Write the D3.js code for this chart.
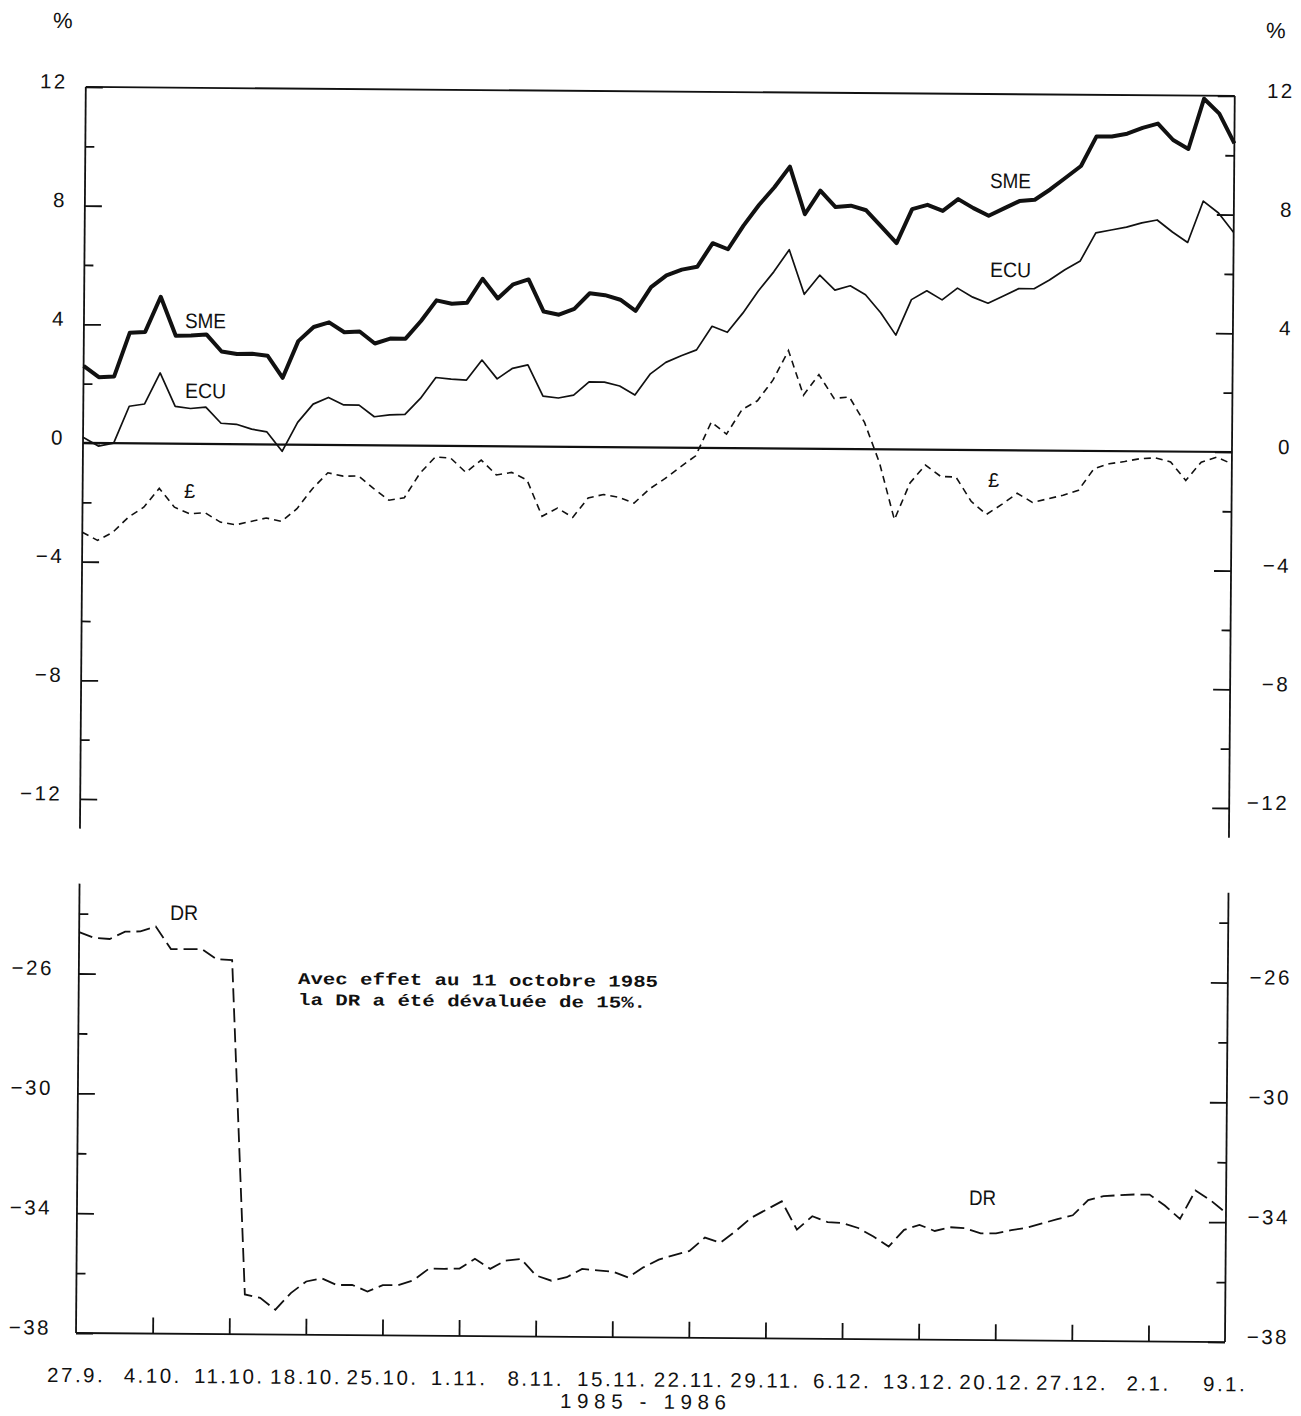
<!DOCTYPE html>
<html><head><meta charset="utf-8">
<script src="https://cdn.jsdelivr.net/npm/d3@7"></script>
<style>body{margin:0;background:#fff}svg{display:block}</style>
</head><body>
<svg id="c" width="1301" height="1416"></svg>
<script>
// ---- data (one value per business day, 27.9.1985 .. 9.1.1986) ----
const tickLabels = ["27.9.","4.10.","11.10.","18.10.","25.10.","1.11.","8.11.","15.11.","22.11.","29.11.","6.12.","13.12.","20.12.","27.12.","2.1.","9.1."];
const yearLabel = "1985 - 1986";
const sme = [2.6,2.22,2.25,3.73,3.76,4.95,3.64,3.65,3.69,3.12,3.04,3.05,2.99,2.25,3.49,3.97,4.13,3.8,3.83,3.43,3.6,3.6,4.2,4.9,4.79,4.83,5.64,4.98,5.46,5.63,4.55,4.45,4.65,5.18,5.12,4.97,4.6,5.4,5.8,6.0,6.1,6.9,6.7,7.5,8.2,8.8,9.5,7.9,8.7,8.15,8.2,8.05,7.5,6.95,8.1,8.25,8.05,8.45,8.15,7.9,8.15,8.4,8.45,8.8,9.2,9.6,10.6,10.6,10.7,10.9,11.05,10.5,10.2,11.9,11.4,10.4];
const ecu = [0.19,-0.1,0.0,1.25,1.33,2.38,1.26,1.19,1.24,0.7,0.67,0.51,0.42,-0.23,0.75,1.37,1.6,1.35,1.35,0.96,1.03,1.05,1.59,2.3,2.25,2.22,2.9,2.27,2.63,2.75,1.7,1.64,1.74,2.19,2.19,2.06,1.76,2.48,2.87,3.1,3.3,4.1,3.9,4.55,5.3,5.95,6.7,5.2,5.85,5.35,5.5,5.2,4.6,3.85,5.05,5.35,5.05,5.45,5.15,4.95,5.2,5.45,5.45,5.75,6.1,6.4,7.35,7.45,7.55,7.7,7.8,7.4,7.05,8.45,8.05,7.4];
const gbp = [-3.01,-3.28,-3.0,-2.49,-2.15,-1.51,-2.14,-2.36,-2.32,-2.63,-2.72,-2.6,-2.48,-2.59,-2.16,-1.48,-0.94,-1.05,-1.04,-1.46,-1.85,-1.76,-0.94,-0.38,-0.41,-0.89,-0.47,-0.97,-0.88,-1.13,-2.35,-2.07,-2.38,-1.72,-1.6,-1.69,-1.88,-1.4,-1.05,-0.65,-0.27,0.87,0.47,1.3,1.6,2.3,3.3,1.8,2.5,1.7,1.75,0.9,-0.46,-2.37,-1.13,-0.52,-0.9,-0.92,-1.73,-2.17,-1.83,-1.45,-1.75,-1.63,-1.5,-1.33,-0.6,-0.43,-0.35,-0.25,-0.22,-0.35,-0.97,-0.35,-0.18,-0.4];
const dr = [-24.62,-24.81,-24.84,-24.59,-24.58,-24.41,-25.16,-25.16,-25.15,-25.49,-25.51,-36.67,-36.78,-37.17,-36.61,-36.22,-36.11,-36.33,-36.32,-36.54,-36.32,-36.32,-36.15,-35.76,-35.76,-35.75,-35.42,-35.75,-35.47,-35.41,-35.96,-36.13,-36.01,-35.73,-35.77,-35.81,-36.0,-35.66,-35.4,-35.24,-35.1,-34.65,-34.82,-34.43,-33.98,-33.7,-33.42,-34.36,-33.91,-34.1,-34.13,-34.29,-34.57,-34.9,-34.34,-34.17,-34.37,-34.24,-34.27,-34.44,-34.43,-34.32,-34.24,-34.09,-33.94,-33.81,-33.3,-33.16,-33.13,-33.1,-33.1,-33.46,-33.9,-32.95,-33.28,-33.69];
const topMajor = [12,8,4,0,-4,-8,-12];
const topMinor = [10,6,2,-2,-6,-10];
const botMajor = [-26,-30,-34];
const botMinor = [-24,-28,-32,-36];
const noteLines = ["Avec effet au 11 octobre 1985","la DR a été dévaluée de 15%."];

// ---- layout ----
const W = 1301, H = 1416;
const L = 81, R = 1230;
const nDays = sme.length - 1;
const x = d3.scaleLinear().domain([0, nDays]).range([L, R]);
const yTop = d3.scaleLinear().domain([-13, 12]).range([833.1, 91.4]);
const yBot = d3.scaleLinear().domain([-38, -23]).range([1337.5, 888.1]);

const ROT = 0.45, CX = 650, CY = 700;
function U(px, py) { // page coords -> unrotated frame
  const t = ROT * Math.PI / 180, dx = px - CX, dy = py - CY;
  return [CX + dx * Math.cos(t) + dy * Math.sin(t), CY - dx * Math.sin(t) + dy * Math.cos(t)];
}

const svg = d3.select("#c");
svg.append("rect").attr("width", W).attr("height", H).attr("fill", "#fff");
const g = svg.append("g").attr("transform", `rotate(${ROT} ${CX} ${CY})`);
const ink = "#111";
const numFont = "'Liberation Sans', Arial, sans-serif";
const monoFont = "'Liberation Mono', 'Courier New', monospace";

function vline(xp, y1, y2, w) { g.append("line").attr("x1", xp).attr("x2", xp).attr("y1", y1).attr("y2", y2).attr("stroke", ink).attr("stroke-width", w || 1.8); }
function hline(yp, x1, x2, w) { g.append("line").attr("x1", x1).attr("x2", x2).attr("y1", yp).attr("y2", yp).attr("stroke", ink).attr("stroke-width", w || 1.8); }

// ---- frames ----
vline(L, yTop(12), yTop(-13));
vline(R, yTop(12), yTop(-13));
hline(yTop(12), L, R);
hline(yTop(0), L, R, 2.2);
vline(L, yBot(-23), yBot(-38));
vline(R, yBot(-23), yBot(-38));
hline(yBot(-38), L, R);

// ---- axes ----
function styleAxis(sel) {
  sel.select(".domain").remove();
  sel.selectAll(".tick line").attr("stroke", ink).attr("stroke-width", 1.8);
  sel.selectAll("text").attr("fill", ink).attr("font-family", numFont).attr("font-size", 20.5).attr("letter-spacing", 2.5);
}
function yAxes(scale, major, minor, padL, padR) {
  const a = g.append("g").attr("transform", `translate(${L},0)`)
    .call(d3.axisLeft(scale).tickValues(major).tickSize(-17).tickPadding(padL).tickFormat(d3.format("d")));
  styleAxis(a); a.selectAll("text").attr("y", -6).attr("dy", "0.35em");
  const b = g.append("g").attr("transform", `translate(${L},0)`)
    .call(d3.axisLeft(scale).tickValues(minor).tickSize(-9).tickFormat(""));
  styleAxis(b);
  const c = g.append("g").attr("transform", `translate(${R},0)`)
    .call(d3.axisRight(scale).tickValues(major).tickSize(-17).tickPadding(padR).tickFormat(d3.format("d")));
  styleAxis(c); c.selectAll("text").attr("text-anchor", "end").attr("y", -6).attr("dy", "0.35em");
  const e = g.append("g").attr("transform", `translate(${R},0)`)
    .call(d3.axisRight(scale).tickValues(minor).tickSize(-9).tickFormat(""));
  styleAxis(e);
}
yAxes(yTop, topMajor, topMinor, 18, 60);
yAxes(yBot, botMajor.concat([-38]), botMinor, 25, 64);

// x axis ticks (weekly) and labels
const weekIdx = d3.range(0, nDays + 1, 5);
const xt = g.append("g").attr("transform", `translate(0,${yBot(-38)})`)
  .call(d3.axisBottom(x).tickValues(weekIdx.slice(1, -1)).tickSize(-16).tickFormat(""));
styleAxis(xt);
const xl = g.append("g").attr("transform", `translate(0,${yBot(-38)})`)
  .call(d3.axisBottom(x).tickValues(weekIdx).tickSize(0).tickPadding(34).tickFormat((d, i) => tickLabels[i]));
styleAxis(xl);
xl.selectAll("text").attr("dy", "0.35em").attr("y", 42);

// ---- series ----
const lineTop = d3.line().x((d, i) => x(i)).y(d => yTop(d));
const lineBot = d3.line().x((d, i) => x(i)).y(d => yBot(d));
g.append("path").datum(gbp).attr("d", lineTop).attr("fill", "none").attr("stroke", ink).attr("stroke-width", 1.6).attr("stroke-dasharray", "7,5");
g.append("path").datum(ecu).attr("d", lineTop).attr("fill", "none").attr("stroke", ink).attr("stroke-width", 1.7).attr("stroke-linejoin", "round");
g.append("path").datum(sme).attr("d", lineTop).attr("fill", "none").attr("stroke", ink).attr("stroke-width", 4).attr("stroke-linejoin", "round");
g.append("path").datum(dr).attr("d", lineBot).attr("fill", "none").attr("stroke", ink).attr("stroke-width", 1.8).attr("stroke-dasharray", "14,6");

// ---- texts ----
function label(txt, px, py, opts) {
  opts = opts || {};
  const p = U(px, py);
  const t = g.append("text").attr("x", p[0]).attr("y", p[1]).text(txt)
    .attr("fill", ink).attr("font-family", opts.font || numFont)
    .attr("font-size", opts.size || 21);
  if (opts.len) t.attr("textLength", opts.len).attr("lengthAdjust", opts.adjust || "spacingAndGlyphs");
  if (opts.anchor) t.attr("text-anchor", opts.anchor);
  if (opts.weight) t.attr("font-weight", opts.weight);
  if (opts.ls) t.attr("letter-spacing", opts.ls);
  return t;
}
label("SME", 185, 328, {len: 41});
label("ECU", 185, 398, {len: 41});
label("£", 184, 498, {size: 20});
label("SME", 990, 188, {len: 41});
label("ECU", 990, 277, {len: 41});
label("£", 988, 487, {size: 20});
label("DR", 170, 920, {len: 28});
label("DR", 969, 1205, {len: 27});
label("%", 53, 28, {size: 22});
label("%", 1266, 38, {size: 22});
label(noteLines[0], 298, 984, {font: monoFont, size: 16.5, weight: "bold", len: 360, adjust: "spacingAndGlyphs"});
label(noteLines[1], 298, 1005, {font: monoFont, size: 16.5, weight: "bold", len: 348, adjust: "spacingAndGlyphs"});
label(yearLabel, 560, 1408, {size: 20.5, len: 166, adjust: "spacing"});
</script>
</body></html>
